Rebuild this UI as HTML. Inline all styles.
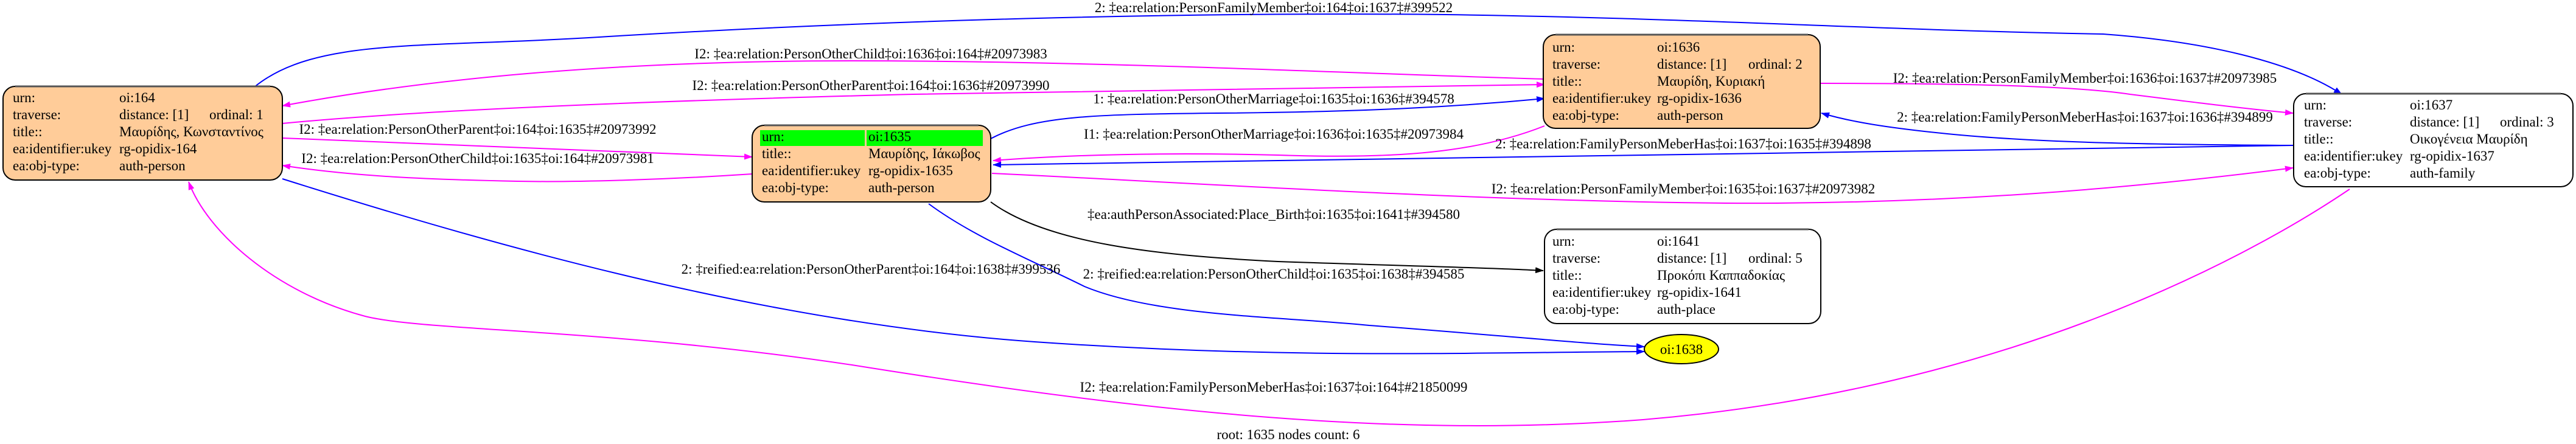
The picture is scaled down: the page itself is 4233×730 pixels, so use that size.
<!DOCTYPE html>
<html><head><meta charset="utf-8"><style>
html,body{margin:0;padding:0;background:#fff;}
svg{display:block;}
text{font-family:"Liberation Serif","DejaVu Serif",serif;font-size:23px;fill:#000;}
.n{fill:#ffcc99;stroke:#000;stroke-width:2;}
.w{fill:#fff;stroke:#000;stroke-width:2;}
.top{stroke:#555;stroke-width:3;fill:none;}
.e{fill:none;stroke-width:2;}
</style></head><body>
<svg width="4233" height="730" viewBox="0 0 4233 730" xmlns="http://www.w3.org/2000/svg">
<defs>
<marker id="ab" markerWidth="14" markerHeight="10" refX="13" refY="5" orient="auto" markerUnits="userSpaceOnUse"><path d="M0,0 L14,5 L0,10 z" fill="#00f"/></marker>
<marker id="am" markerWidth="14" markerHeight="10" refX="13" refY="5" orient="auto" markerUnits="userSpaceOnUse"><path d="M0,0 L14,5 L0,10 z" fill="#f0f"/></marker>
<marker id="ak" markerWidth="14" markerHeight="10" refX="13" refY="5" orient="auto" markerUnits="userSpaceOnUse"><path d="M0,0 L14,5 L0,10 z" fill="#000"/></marker>
</defs>

<path class="e" stroke="#00f" marker-end="url(#ab)" d="M418,143 C520,60 700,80 1000,60 C1500,30 2000,20 2376,24 C2800,30 3100,50 3456,56 C3650,70 3780,110 3848,155"/>
<text x="2093" y="20" text-anchor="middle">2: ‡ea:relation:PersonFamilyMember‡oi:164‡oi:1637‡#399522</text>

<path class="e" stroke="#f0f" marker-end="url(#am)" d="M2538,130 C2200,120 1800,100 1400,100 C1000,100 700,130 464,174"/>
<text x="1431" y="96" text-anchor="middle">I2: ‡ea:relation:PersonOtherChild‡oi:1636‡oi:164‡#20973983</text>

<path class="e" stroke="#f0f" marker-end="url(#am)" d="M464,203 C700,180 1100,165 1500,155 C1900,148 2300,142 2538,139"/>
<text x="1431" y="148" text-anchor="middle">I2: ‡ea:relation:PersonOtherParent‡oi:164‡oi:1636‡#20973990</text>

<path class="e" stroke="#00f" marker-end="url(#ab)" d="M1628,228 C1700,190 1800,188 2000,186 C2250,184 2400,175 2538,162"/>
<text x="2093" y="170" text-anchor="middle">1: ‡ea:relation:PersonOtherMarriage‡oi:1635‡oi:1636‡#394578</text>

<path class="e" stroke="#f0f" marker-end="url(#am)" d="M2538,207 C2430,250 2300,262 2100,255 C1900,250 1750,255 1632,264"/>
<text x="2093" y="228" text-anchor="middle">I1: ‡ea:relation:PersonOtherMarriage‡oi:1636‡oi:1635‡#20973984</text>

<path class="e" stroke="#00f" marker-end="url(#ab)" d="M3770,239 C3000,250 2300,262 1632,271"/>
<text x="2766" y="244" text-anchor="middle">2: ‡ea:relation:FamilyPersonMeberHas‡oi:1637‡oi:1635‡#394898</text>

<path class="e" stroke="#00f" marker-end="url(#ab)" d="M3770,239 C3550,238 3350,235 3200,220 C3100,210 3040,200 2993,186"/>
<text x="3426" y="200" text-anchor="middle">2: ‡ea:relation:FamilyPersonMeberHas‡oi:1637‡oi:1636‡#394899</text>

<path class="e" stroke="#f0f" marker-end="url(#am)" d="M2992,137 C3200,137 3400,140 3500,155 C3620,170 3700,180 3768,186"/>
<text x="3426" y="136" text-anchor="middle">I2: ‡ea:relation:PersonFamilyMember‡oi:1636‡oi:1637‡#20973985</text>

<path class="e" stroke="#f0f" marker-end="url(#am)" d="M1630,285 C1950,300 2400,330 2835,334 C3200,336 3500,310 3768,276"/>
<text x="2766" y="318" text-anchor="middle">I2: ‡ea:relation:PersonFamilyMember‡oi:1635‡oi:1637‡#20973982</text>

<path class="e" stroke="#f0f" marker-end="url(#am)" d="M464,227 C750,240 1000,250 1236,258"/>
<text x="785" y="220" text-anchor="middle">I2: ‡ea:relation:PersonOtherParent‡oi:164‡oi:1635‡#20973992</text>

<path class="e" stroke="#f0f" marker-end="url(#am)" d="M1236,286 C1100,295 950,300 850,298 C700,295 580,290 464,272"/>
<text x="785" y="268" text-anchor="middle">I2: ‡ea:relation:PersonOtherChild‡oi:1635‡oi:164‡#20973981</text>

<path class="e" stroke="#000" marker-end="url(#ak)" d="M1628,332 C1720,400 1900,420 2100,430 C2300,437 2450,440 2536,445"/>
<text x="2093" y="360" text-anchor="middle">‡ea:authPersonAssociated:Place_Birth‡oi:1635‡oi:1641‡#394580</text>

<path class="e" stroke="#00f" marker-end="url(#ab)" d="M1526,335 C1600,390 1700,430 1782,471 C1900,520 2100,520 2250,535 C2450,550 2600,565 2702,570"/>
<text x="2093" y="458" text-anchor="middle">2: ‡reified:ea:relation:PersonOtherChild‡oi:1635‡oi:1638‡#394585</text>

<path class="e" stroke="#00f" marker-end="url(#ab)" d="M464,294 C800,400 1250,530 1700,562 C2100,590 2400,580 2702,578"/>
<text x="1431" y="450" text-anchor="middle">2: ‡reified:ea:relation:PersonOtherParent‡oi:164‡oi:1638‡#399536</text>

<path class="e" stroke="#f0f" marker-end="url(#am)" d="M3861,311 C3700,420 3300,640 2700,690 C2300,720 1900,680 1400,600 C1000,540 700,545 600,520 C450,480 340,380 310,299"/>
<text x="2093" y="644" text-anchor="middle">I2: ‡ea:relation:FamilyPersonMeberHas‡oi:1637‡oi:164‡#21850099</text>

<rect class="n" x="5" y="142" width="459" height="154" rx="20"/>
<path class="top" d="M25,142 H444"/>
<text x="21" y="168">urn:</text><text x="196" y="168">oi:164</text>
<text x="21" y="196">traverse:</text><text x="196" y="196">distance: [1]</text><text x="344" y="196">ordinal: 1</text>
<text x="21" y="224">title::</text><text x="196" y="224">Μαυρίδης, Κωνσταντίνος</text>
<text x="21" y="252">ea:identifier:ukey</text><text x="196" y="252">rg-opidix-164</text>
<text x="21" y="280">ea:obj-type:</text><text x="196" y="280">auth-person</text>

<rect class="n" x="1236" y="206" width="392" height="126" rx="20"/>
<path class="top" d="M1256,206 H1608"/>
<rect x="1249" y="214" width="172" height="26" fill="#00ff00"/>
<rect x="1424" y="214" width="191" height="26" fill="#00ff00"/>
<text x="1252" y="232">urn:</text><text x="1427" y="232">oi:1635</text>
<text x="1252" y="260">title::</text><text x="1427" y="260">Μαυρίδης, Ιάκωβος</text>
<text x="1252" y="288">ea:identifier:ukey</text><text x="1427" y="288">rg-opidix-1635</text>
<text x="1252" y="316">ea:obj-type:</text><text x="1427" y="316">auth-person</text>

<rect class="n" x="2536" y="57" width="455" height="154" rx="20"/>
<path class="top" d="M2556,57 H2971"/>
<text x="2551" y="85">urn:</text><text x="2723" y="85">oi:1636</text>
<text x="2551" y="113">traverse:</text><text x="2723" y="113">distance: [1]</text><text x="2873" y="113">ordinal: 2</text>
<text x="2551" y="141">title::</text><text x="2723" y="141">Μαυρίδη, Κυριακή</text>
<text x="2551" y="169">ea:identifier:ukey</text><text x="2723" y="169">rg-opidix-1636</text>
<text x="2551" y="197">ea:obj-type:</text><text x="2723" y="197">auth-person</text>

<rect class="w" x="3769" y="154" width="459" height="153" rx="20"/>
<path class="top" d="M3789,154 H4208"/>
<text x="3786" y="180">urn:</text><text x="3960" y="180">oi:1637</text>
<text x="3786" y="208">traverse:</text><text x="3960" y="208">distance: [1]</text><text x="4108" y="208">ordinal: 3</text>
<text x="3786" y="236">title::</text><text x="3960" y="236">Οικογένεια Μαυρίδη</text>
<text x="3786" y="264">ea:identifier:ukey</text><text x="3960" y="264">rg-opidix-1637</text>
<text x="3786" y="292">ea:obj-type:</text><text x="3960" y="292">auth-family</text>

<rect class="w" x="2538" y="377" width="454" height="155" rx="20"/>
<path class="top" d="M2558,377 H2972"/>
<text x="2551" y="404">urn:</text><text x="2723" y="404">oi:1641</text>
<text x="2551" y="432">traverse:</text><text x="2723" y="432">distance: [1]</text><text x="2873" y="432">ordinal: 5</text>
<text x="2551" y="460">title::</text><text x="2723" y="460">Προκόπι Καππαδοκίας</text>
<text x="2551" y="488">ea:identifier:ukey</text><text x="2723" y="488">rg-opidix-1641</text>
<text x="2551" y="516">ea:obj-type:</text><text x="2723" y="516">auth-place</text>

<ellipse cx="2763" cy="574" rx="61" ry="24" fill="#ffff00" stroke="#000" stroke-width="2"/>
<text x="2763" y="582" text-anchor="middle">oi:1638</text>

<text x="2117" y="722" text-anchor="middle">root: 1635 nodes count: 6</text>
</svg>
</body></html>
